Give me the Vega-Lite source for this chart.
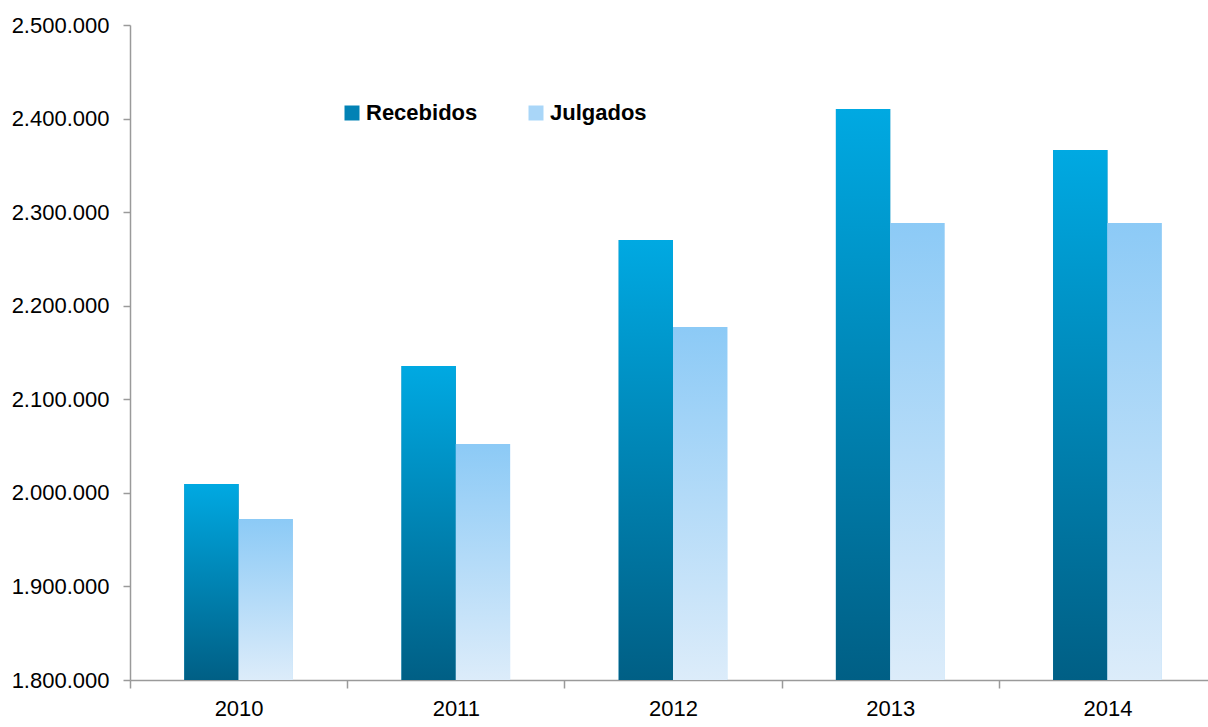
{
  "$schema": "https://vega.github.io/schema/vega-lite/v6.json",
  "width": 1086,
  "height": 655,
  "autosize": {"type": "none"},
  "padding": {"left": 130, "top": 25, "right": 0, "bottom": 47},
  "background": "white",
  "config": {
    "locale": {"number": {"decimal": ",", "thousands": ".", "grouping": [3], "currency": ["", ""]}},
    "view": {"stroke": null},
    "font": "Liberation Sans"
  },
  "data": {
    "values": [
      {"ano": "2010", "serie": "Recebidos", "valor": 2009500},
      {"ano": "2010", "serie": "Julgados", "valor": 1972000},
      {"ano": "2011", "serie": "Recebidos", "valor": 2135600},
      {"ano": "2011", "serie": "Julgados", "valor": 2052200},
      {"ano": "2012", "serie": "Recebidos", "valor": 2270200},
      {"ano": "2012", "serie": "Julgados", "valor": 2177300},
      {"ano": "2013", "serie": "Recebidos", "valor": 2410200},
      {"ano": "2013", "serie": "Julgados", "valor": 2288400},
      {"ano": "2014", "serie": "Recebidos", "valor": 2366400},
      {"ano": "2014", "serie": "Julgados", "valor": 2288400}
    ]
  },
  "encoding": {
    "x": {
      "field": "ano", "type": "nominal",
      "scale": {"paddingInner": 0, "paddingOuter": 0},
      "axis": {
        "title": null, "labelAngle": 0, "labelFontSize": 22, "labelColor": "#000000",
        "labelPadding": 10, "tickBand": "extent", "tickSize": 8, "tickColor": "#9a9a9a",
        "domainColor": "#9a9a9a", "domainWidth": 1.5, "tickWidth": 1.5
      }
    },
    "xOffset": {
      "field": "serie", "type": "nominal",
      "scale": {"domain": ["Recebidos", "Julgados"], "paddingInner": 0, "paddingOuter": 1.47}
    },
    "y": {
      "field": "valor", "type": "quantitative",
      "scale": {"domain": [1800000, 2500000], "zero": false, "nice": false},
      "axis": {
        "title": null, "values": [1800000, 1900000, 2000000, 2100000, 2200000, 2300000, 2400000, 2500000],
        "format": ",d", "grid": false, "labelFontSize": 22, "labelColor": "#000000",
        "labelPadding": 14, "tickSize": 7, "tickColor": "#9a9a9a", "domainColor": "#9a9a9a",
        "domainWidth": 1.5, "tickWidth": 1.5
      }
    },
    "y2": {"datum": 1800000}
  },
  "layer": [
    {
      "mark": {"type": "bar"},
      "encoding": {
        "color": {
          "field": "serie", "type": "nominal",
          "scale": {"domain": ["Recebidos", "Julgados"], "range": ["#0282b5", "#a9d6f8"]},
          "legend": {
            "title": null, "orient": "none", "direction": "horizontal",
            "legendX": 211, "legendY": 77, "symbolType": "square", "symbolSize": 225,
            "symbolStrokeWidth": 0, "labelFontSize": 22, "labelFontWeight": "bold",
            "labelColor": "#000000", "labelOffset": 3, "columnPadding": 47
          }
        }
      }
    },
    {
      "mark": {"type": "bar"},
      "encoding": {
        "fill": {
          "condition": {
            "test": "datum.serie === 'Recebidos'",
            "value": {"gradient": "linear", "x1": 0, "y1": 0, "x2": 0, "y2": 1,
              "stops": [{"offset": 0, "color": "#00a9e2"}, {"offset": 1, "color": "#005f85"}]}
          },
          "value": {"gradient": "linear", "x1": 0, "y1": 0, "x2": 0, "y2": 1,
            "stops": [{"offset": 0, "color": "#8ccaf6"}, {"offset": 1, "color": "#dcecfa"}]}
        }
      }
    }
  ]
}
